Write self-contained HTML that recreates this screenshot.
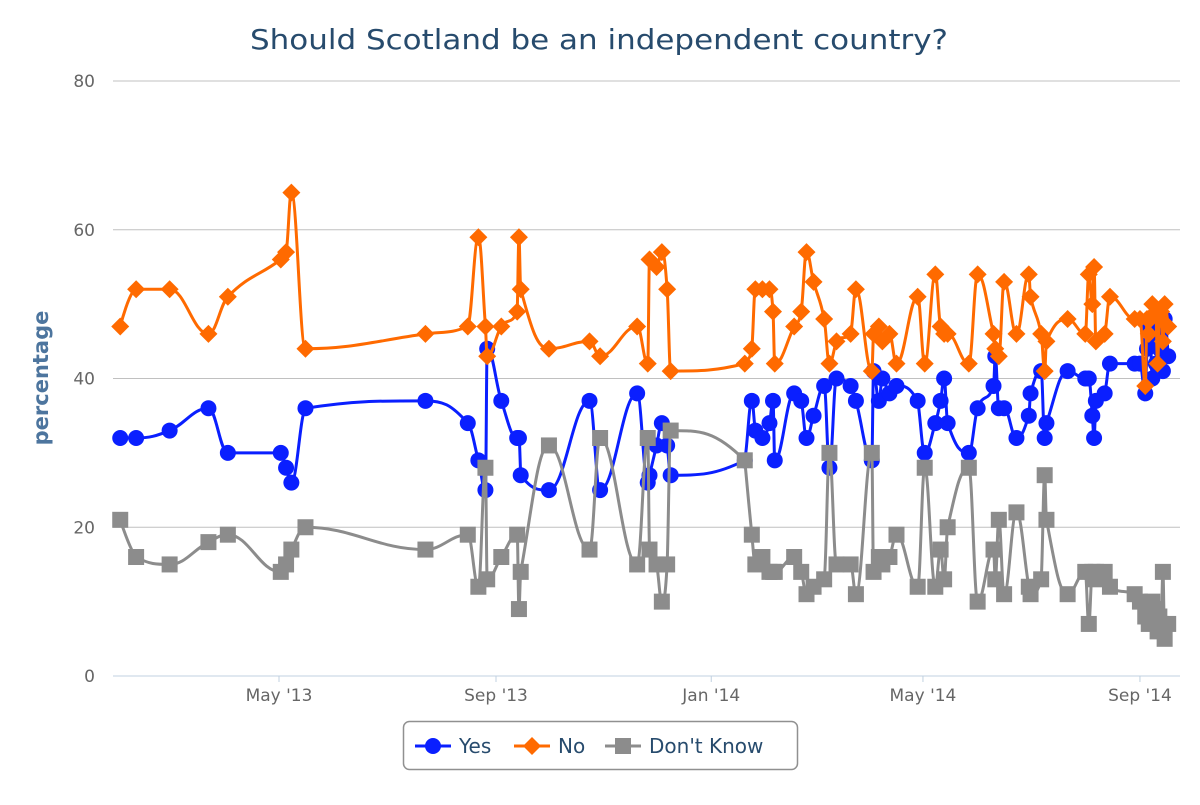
<!DOCTYPE html>
<html><head><meta charset="utf-8"><style>
html,body{margin:0;padding:0;background:#fff;}
svg text{font-family:"DejaVu Sans","Liberation Sans",sans-serif;}
</style></head><body>
<svg id="chart" width="1200" height="800" xmlns="http://www.w3.org/2000/svg">
<text x="250" y="49" textLength="698" lengthAdjust="spacingAndGlyphs" font-size="28" fill="#274b6d">Should Scotland be an independent country?</text>
<text x="48" y="378" transform="rotate(-90 48 378)" text-anchor="middle" font-size="21" font-weight="bold" fill="#4d759e">percentage</text>
<g id="grid"></g>
<g id="series"></g>
<g>
<rect x="403.5" y="721.5" width="394" height="48" rx="6" fill="#fff" stroke="#909090" stroke-width="1.5"/>
<g><line x1="415" y1="746" x2="451" y2="746" stroke="#0a1fff" stroke-width="3"/><circle cx="433" cy="746" r="8" fill="#0a1fff"/><text x="459" y="753" font-size="20" fill="#274b6d">Yes</text></g>
<g><line x1="514" y1="746" x2="550" y2="746" stroke="#ff6a00" stroke-width="3"/><path d="M532 737 L541 746 L532 755 L523 746 Z" fill="#ff6a00"/><text x="558" y="753" font-size="20" fill="#274b6d">No</text></g>
<g><line x1="605" y1="746" x2="641" y2="746" stroke="#8c8c8c" stroke-width="3"/><rect x="615" y="738" width="16" height="16" fill="#8c8c8c"/><text x="649" y="753" font-size="20" fill="#274b6d">Don't Know</text></g>
</g>
</svg>
<script>
// days since 2013-01-01
const days=[30,39,58,80,91,121,124,127,135,203,227,233,237,238,246,255,256,257,273,296,302,323,329,330,334,337,340,342,384,388,390,394,398,400,401,412,416,419,423,429,432,436,444,447,456,457,460,462,466,470,482,486,492,495,497,499,511,516,525,526,528,531,538,545,546,552,554,555,567,577,579,581,582,583,588,591,605,608,611,612,613,614,615,617,618,619,620,621,622,624];
const yesValues=[32,32,33,36,30,30,28,26,36,37,34,29,25,44,37,32,32,27,25,37,25,38,26,27,31,34,31,27,29,37,33,32,34,37,29,38,37,32,35,39,28,40,39,37,29,41,37,40,38,39,37,30,34,37,40,34,30,36,39,43,36,36,32,35,38,41,32,34,41,40,40,35,32,37,38,42,42,42,38,44,47,45,40,42,46,44,47,41,48,43];
const noValues=[47,52,52,46,51,56,57,65,44,46,47,59,47,43,47,49,59,52,44,45,43,47,42,56,55,57,52,41,42,44,52,52,52,49,42,47,49,57,53,48,42,45,46,52,41,46,47,45,46,42,51,42,54,47,46,46,42,54,46,44,43,53,46,54,51,46,41,45,48,46,54,50,55,45,46,51,48,48,39,48,46,48,50,49,42,48,49,45,50,47];
const dkValues=[21,16,15,18,19,14,15,17,20,17,19,12,28,13,16,19,9,14,31,17,32,15,32,17,15,10,15,33,29,19,15,16,14,14,14,16,14,11,12,13,30,15,15,11,30,14,16,15,16,19,12,28,12,17,13,20,28,10,17,13,21,11,22,12,11,13,27,21,11,14,7,14,13,14,14,12,11,10,8,8,7,8,10,9,6,8,7,14,5,7];
const yTicks=[0,20,40,60,80];
const xTickDays=[120,243,365,485,608];
const xTickLabels=["May '13","Sep '13","Jan '14","May '14","Sep '14"];

const NS='http://www.w3.org/2000/svg';
const X0=113,X1=1180,Y0=676,Y1=81;
const dMin=25.9,dMax=630.7;
function xs(d){return X0+(d-dMin)/(dMax-dMin)*(X1-X0);}
function ys(v){return Y0-v/80*(Y0-Y1);}
function mk(t,a,p){const e=document.createElementNS(NS,t);for(const k in a)e.setAttribute(k,a[k]);p.appendChild(e);return e;}
const grid=document.getElementById('grid');
yTicks.forEach(v=>{
  const l=mk('line',{x1:X0,x2:X1,y1:ys(v),y2:ys(v),stroke:v===0?'#c0d0e0':'#c0c0c0','stroke-width':1},grid);
  
  
  const t=mk('text',{x:95,y:ys(v)+6,'text-anchor':'end','font-size':17,fill:'#666'},grid);
  t.textContent=v;
  
  
});
xTickDays.forEach((d,i)=>{
  const l=mk('line',{x1:xs(d),x2:xs(d),y1:Y0,y2:Y0+6,stroke:'#c0d0e0','stroke-width':1},grid);
  
  
  const t=mk('text',{x:xs(d),y:701,'text-anchor':'middle','font-size':17,fill:'#666'},grid);
  t.textContent=xTickLabels[i];
  
  
});
function splinePath(pts){
  const sm=1.5,den=2.5;const c=[];
  for(let i=0;i<pts.length;i++){
    const [x,y]=pts[i];
    if(i===0||i===pts.length-1){c.push({lx:x,ly:y,rx:x,ry:y});continue;}
    const [px,py]=pts[i-1],[nx,ny]=pts[i+1];
    let lx=(sm*x+px)/den,ly=(sm*y+py)/den,rx=(sm*x+nx)/den,ry=(sm*y+ny)/den;
    if(rx!==lx){const cor=((ry-ly)*(rx-x))/(rx-lx)+y-ry;ly+=cor;ry+=cor;}
    if(ly>py&&ly>y){ly=Math.max(py,y);ry=2*y-ly;}else if(ly<py&&ly<y){ly=Math.min(py,y);ry=2*y-ly;}
    if(ry>ny&&ry>y){ry=Math.max(ny,y);ly=2*y-ry;}else if(ry<ny&&ry<y){ry=Math.min(ny,y);ly=2*y-ry;}
    c.push({lx,ly,rx,ry});
  }
  let d='M'+pts[0][0]+' '+pts[0][1];
  for(let i=1;i<pts.length;i++){d+=' C'+c[i-1].rx+' '+c[i-1].ry+' '+c[i].lx+' '+c[i].ly+' '+pts[i][0]+' '+pts[i][1];}
  return d;
}
const sg=document.getElementById('series');
function drawSeries(vals,color,shape,name){
  const g=mk('g',{},sg);
  
  
  const pts=days.map((d,i)=>[xs(d),ys(vals[i])]);
  const p=mk('path',{d:splinePath(pts),fill:'none',stroke:color,'stroke-width':3,'stroke-linejoin':'round'},g);
  
  
  pts.forEach(([x,y])=>{
    let m;
    if(shape==='circle')m=mk('circle',{cx:x,cy:y,r:8,fill:color},g);
    else if(shape==='diamond')m=mk('path',{d:`M${x} ${y-9} L${x+9} ${y} L${x} ${y+9} L${x-9} ${y} Z`,fill:color},g);
    else m=mk('rect',{x:x-8,y:y-8,width:16,height:16,fill:color},g);
    
    
  });
}
drawSeries(yesValues,'#0a1fff','circle','yes');
drawSeries(noValues,'#ff6a00','diamond','no');
drawSeries(dkValues,'#8c8c8c','square','dont-know');
</script>
</body></html>
